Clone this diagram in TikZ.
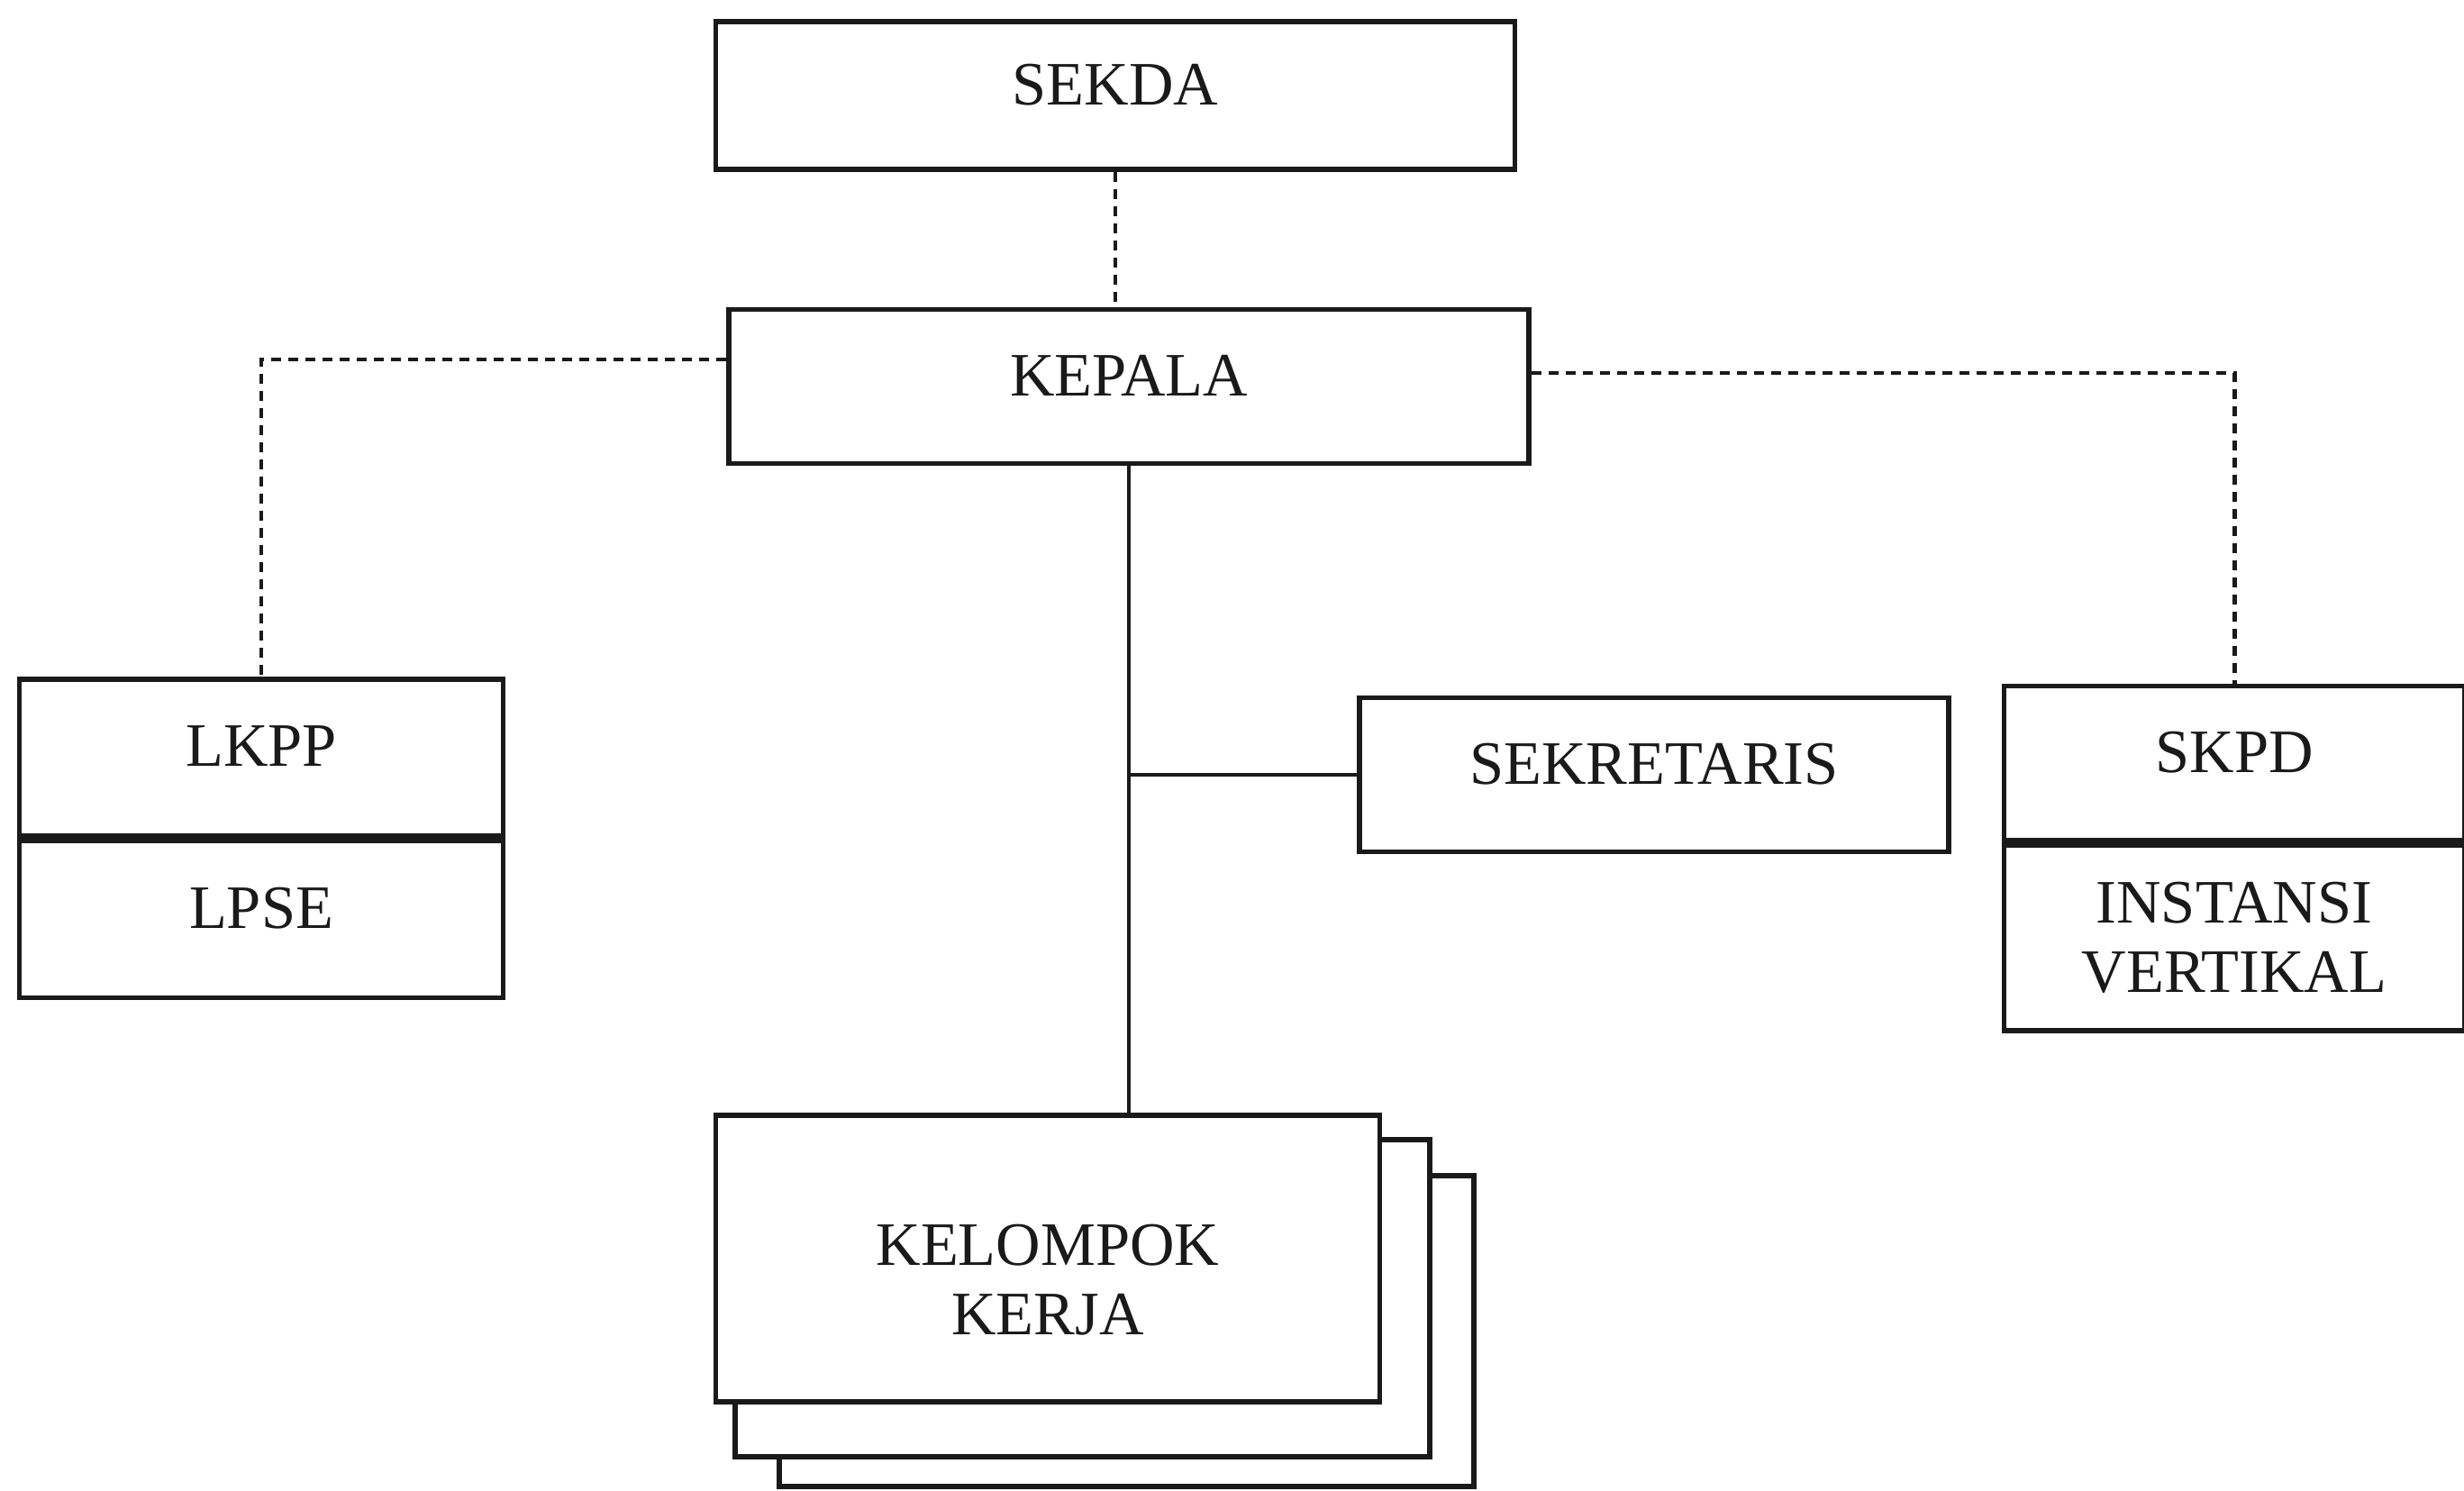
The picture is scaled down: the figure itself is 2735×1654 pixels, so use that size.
\documentclass[tikz,border=0pt]{standalone}
\usepackage{fontspec}
\setmainfont{Liberation Serif}
\usetikzlibrary{positioning}
\definecolor{orgInk}{HTML}{1A1A1A}
\tikzset{
  every picture/.style={font=\fontsize{19.5}{22}\selectfont, text=orgInk},
  org box/.style={draw=orgInk, line width=1.6pt, fill=white, align=center,
    inner sep=0pt},
  org label/.style={org box, text depth=2.5mm},
  org dashed/.style={draw=orgInk, line width=1.4pt, dash pattern=on 1.1mm off 0.8mm},
  org solid/.style={draw=orgInk, line width=1.2pt}
}

\begin{document}
\begin{tikzpicture}[x=0.1mm,y=-0.1mm]
  \useasboundingbox (0,0) rectangle (2735,1654);
  % top of the chart
  \node[org label, minimum width=88.7mm, minimum height=16.4mm] (sekda) at (1238,106) {SEKDA};
  \node[org label, minimum width=88.8mm, minimum height=17.1mm] (kepala) at (1253,429) {KEPALA};
  % side units
  \node[org label, minimum width=53.7mm, minimum height=17.4mm] (lkpp) at (290,841) {LKPP};
  \node[org label, minimum width=53.7mm, minimum height=17.4mm, below=0mm of lkpp] (lpse) {LPSE};
  \node[org label, minimum width=65.4mm, minimum height=17.1mm] (sekretaris) at (1836,860) {SEKRETARIS};
  \node[org label, minimum width=51.1mm, minimum height=17.1mm] (skpd) at (2480,847) {SKPD};
  \node[org box, minimum width=51.1mm, minimum height=20.6mm, below=0mm of skpd] (instansi) {INSTANSI\\VERTIKAL};
  % stacked working groups
  \draw[org box] (865,1305) rectangle (1636,1650);
  \draw[org box] (816,1265) rectangle (1587,1617);
  \node[org box, text height=17mm, minimum width=73.7mm, minimum height=31.8mm] (kelompok) at (1163,1397) {KELOMPOK\\KERJA};
  % connectors
  \draw[org dashed] (sekda.south) -- (sekda.south |- kepala.north);
  \draw[org dashed] ([yshift=3mm]kepala.west) -| (lkpp.north);
  \draw[org dashed] ([yshift=1.5mm]kepala.east) -| (skpd.north);
  \draw[org solid] (kepala.south) -- (kepala.south |- kelompok.north);
  \draw[org solid] (sekretaris.west) -- (sekretaris.west -| kepala.south);
\end{tikzpicture}
\end{document}
